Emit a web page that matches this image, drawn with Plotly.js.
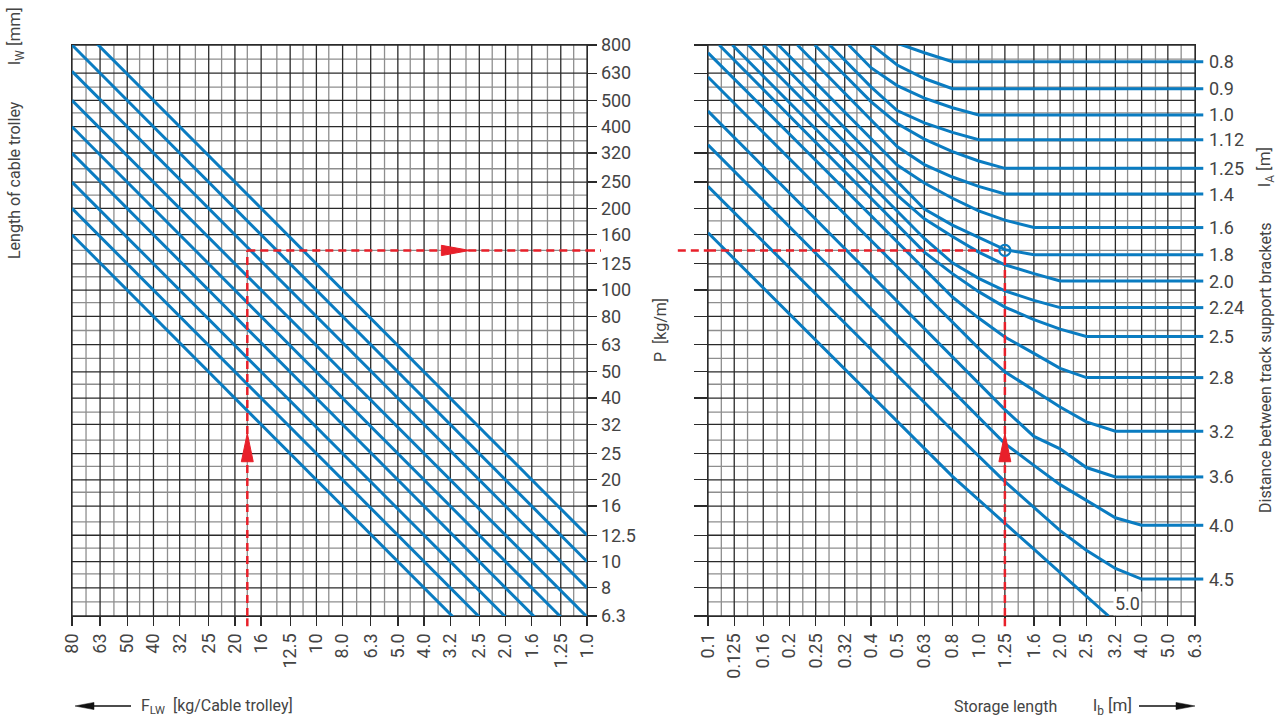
<!DOCTYPE html>
<html><head><meta charset="utf-8">
<script src="https://cdn.plot.ly/plotly-3.0.1.min.js"></script>
<style>html,body{margin:0;padding:0;background:#fff}#chart{width:1283px;height:719px}</style>
</head><body><div id="chart"></div>
<script>
// ---------------- data ----------------
// left nomogram: length of cable trolley lW [mm]
const lwValues = [80, 100, 125, 160, 200, 250, 320, 400, 500];
// F_LW axis (kg / cable trolley)
const fTickVals = [80, 63, 50, 40, 32, 25, 20, 16, 12.5, 10, 8, 6.3, 5, 4, 3.2, 2.5, 2, 1.6, 1.25, 1];
const fTickText = ["80","63","50","40","32","25","20","16","12.5","10","8.0","6.3","5.0","4.0","3.2","2.5","2.0","1.6","1.25","1.0"];
const fMinor = [71, 56, 45, 35.5, 28, 22.4, 18, 14, 11.2, 9, 7.1, 5.6, 4.5, 3.55, 2.8, 2.24, 1.8, 1.4, 1.12];
// P axis (kg/m)
const pTickVals = [800, 630, 500, 400, 320, 250, 200, 160, 125, 100, 80, 63, 50, 40, 32, 25, 20, 16, 12.5, 10, 8, 6.3];
const pTickText = ["800","630","500","400","320","250","200","160","125","100","80","63","50","40","32","25","20","16","12.5","10","8","6.3"];
const pMinor = [710, 560, 450, 355, 280, 224, 180, 140, 112, 90, 71, 56, 45, 35.5, 28, 22.4, 18, 14, 11.2, 9, 7.1];
// storage length lb [m]
const lbTickVals = [0.1, 0.125, 0.16, 0.2, 0.25, 0.32, 0.4, 0.5, 0.63, 0.8, 1, 1.25, 1.6, 2, 2.5, 3.2, 4, 5, 6.3];
const lbTickText = ["0.1","0.125","0.16","0.2","0.25","0.32","0.4","0.5","0.63","0.8","1.0","1.25","1.6","2.0","2.5","3.2","4.0","5.0","6.3"];
const lbMinor = [0.112, 0.14, 0.18, 0.224, 0.28, 0.355, 0.45, 0.56, 0.71, 0.9, 1.12, 1.4, 1.8, 2.24, 2.8, 3.55, 4.5, 5.6];
// distance between track support brackets lA [m]
const laLabels = ["0.8","0.9","1.0","1.12","1.25","1.4","1.6","1.8","2.0","2.24","2.5","2.8","3.2","3.6","4.0","4.5","5.0"];
const laFlatP  = [694, 552, 442, 358, 281, 226, 170, 135, 108, 86.2, 67.5, 47.6, 30.2, 20.5, 13.6, 8.62, null];
// curves of the right nomogram (lb [m], P [kg/m]), one per lA
const curveLb = [
  [0.5, 0.63, 0.8, 6.3],
  [0.38, 0.5, 0.63, 0.8, 6.3],
  [0.331, 0.4, 0.5, 0.63, 0.8, 1.0, 6.3],
  [0.282, 0.4, 0.5, 0.63, 0.8, 1.0, 6.3],
  [0.248, 0.4, 0.5, 0.63, 0.8, 1.0, 1.25, 6.3],
  [0.214, 0.5, 0.63, 0.8, 1.0, 1.25, 6.3],
  [0.182, 0.4, 0.5, 0.63, 0.8, 1.0, 1.25, 1.6, 6.3],
  [0.16, 0.63, 0.8, 1.0, 1.25, 1.6, 6.3],
  [0.141, 0.5, 0.63, 0.8, 1.0, 1.25, 1.6, 2.0, 6.3],
  [0.123, 0.63, 0.8, 1.0, 1.25, 1.6, 2.0, 6.3],
  [0.11, 0.63, 0.8, 1.0, 1.25, 1.6, 2.0, 2.5, 6.3],
  [0.1, 0.8, 1.0, 1.25, 1.6, 2.0, 2.5, 6.3],
  [0.1, 1.0, 1.25, 1.6, 2.0, 2.5, 3.2, 6.3],
  [0.1, 1.25, 1.6, 2.0, 2.5, 3.2, 6.3],
  [0.1, 1.25, 1.6, 2.0, 2.5, 3.2, 4.0, 6.3],
  [0.1, 0.8, 1.25, 2.0, 2.5, 3.2, 4.0, 6.3],
  [0.1, 0.8, 1.6, 3.02]
];
const curveP = [
  [812, 749, 694, 694],
  [838, 675, 602, 552, 552],
  [800, 660, 567, 510, 470, 442, 442],
  [800, 561, 459, 413, 381, 358, 358],
  [800, 495, 411, 360, 324, 299, 281, 281],
  [800, 338, 290, 261, 241, 226, 226],
  [800, 362, 289, 248, 218, 196, 181, 170, 170],
  [800, 199, 173.5, 156, 141, 135, 135],
  [800, 224, 183, 157.5, 138, 124, 115, 108, 108],
  [800, 155, 126, 110.5, 99.4, 91.7, 86.2, 86.2],
  [800, 138, 115, 98.7, 86.6, 77.9, 71.8, 67.5, 67.5],
  [749, 94.3, 78.9, 67.2, 58.5, 51.5, 47.6, 47.6],
  [610, 61.0, 50.0, 42.6, 37.1, 32.7, 30.2, 30.2],
  [457, 36.3, 28.9, 26.0, 22.2, 20.5, 20.5],
  [343, 27.2, 22.6, 19.2, 16.8, 14.5, 13.6, 13.6],
  [241, 30.4, 19.7, 13.0, 11.0, 9.43, 8.62, 8.62],
  [162.7, 20.6, 11.1, 6.3]
];
// label of the last curve (inside the plot)
const lastCurveLabelLb = 3.56, lastCurveLabelP = 7.03;
// worked example (red dashed path)
const exampleF = 18, exampleP = 140, exampleLb = 1.25;

// ---------------- style ----------------
const BLUE = '#0a7cc1', RED = '#e8202a', DARK = '#2a2a2a', MINOR = '#8e8e8e', TXT = '#444444';
const FONT = '"Liberation Sans Narrow", "Arial Narrow", Roboto, sans-serif';
const W = 1283, H = 719;
const px = x => x / W, py = y => 1 - y / H;
const L = Math.log10;
const dom1 = [72 / W, 587 / W], dom2 = [708 / W, 1195 / W], domY = [103 / H, 674 / H];
const first = a => a[0], last = a => a[a.length - 1];
const rangeP = [L(last(pTickVals)), L(first(pTickVals))];

const traces = [];
// grid lines (drawn as traces so that major and minor lines get their own colours)
function gridTrace(vals, lo, hi, vertical, xa, ya, color) {
  const xs = [], ys = [];
  vals.forEach(v => {
    if (vertical) { xs.push(v, v, null); ys.push(lo, hi, null); }
    else { xs.push(lo, hi, null); ys.push(v, v, null); }
  });
  return {x: xs, y: ys, xaxis: xa, yaxis: ya, mode: 'lines', line: {color: color, width: 1.3},
    hoverinfo: 'skip', connectgaps: false};
}
const pLo = last(pTickVals), pHi = first(pTickVals);
traces.push(gridTrace(fMinor, pLo, pHi, true, 'x', 'y', MINOR));
traces.push(gridTrace(pMinor, first(fTickVals), last(fTickVals), false, 'x', 'y', MINOR));
traces.push(gridTrace(fTickVals, pLo, pHi, true, 'x', 'y', DARK));
traces.push(gridTrace(pTickVals, first(fTickVals), last(fTickVals), false, 'x', 'y', DARK));
traces.push(gridTrace(lbMinor, pLo, pHi, true, 'x2', 'y2', MINOR));
traces.push(gridTrace(pMinor, first(lbTickVals), last(lbTickVals), false, 'x2', 'y2', MINOR));
traces.push(gridTrace(lbTickVals, pLo, pHi, true, 'x2', 'y2', DARK));
traces.push(gridTrace(pTickVals, first(lbTickVals), last(lbTickVals), false, 'x2', 'y2', DARK));

// left: lines P = F / lW
lwValues.forEach(lw => {
  const fx = [first(fTickVals), last(fTickVals)];
  traces.push({x: fx, y: fx.map(f => f * 1000 / lw), xaxis: 'x', yaxis: 'y', mode: 'lines',
    line: {color: BLUE, width: 3}, hoverinfo: 'skip'});
});
// right: curves
curveLb.forEach((xs, i) => {
  traces.push({x: xs, y: curveP[i], xaxis: 'x2', yaxis: 'y2', mode: 'lines',
    line: {color: BLUE, width: 3}, hoverinfo: 'skip', name: laLabels[i]});
});
// red example path
const redLine = {color: RED, width: 2.5, dash: '8px,5px'};
traces.push({x: [exampleF, exampleF], y: [pLo, exampleP], xaxis: 'x', yaxis: 'y', mode: 'lines', line: redLine, hoverinfo: 'skip'});
traces.push({x: [exampleF, last(fTickVals)], y: [exampleP, exampleP], xaxis: 'x', yaxis: 'y', mode: 'lines', line: redLine, hoverinfo: 'skip'});
const cgap = Math.pow(10, 0.022);
traces.push({x: [first(lbTickVals), exampleLb / cgap], y: [exampleP, exampleP], xaxis: 'x2', yaxis: 'y2', mode: 'lines', line: redLine, hoverinfo: 'skip'});
traces.push({x: [exampleLb, exampleLb], y: [pLo, exampleP / cgap], xaxis: 'x2', yaxis: 'y2', mode: 'lines', line: redLine, hoverinfo: 'skip'});
traces.push({x: [exampleLb], y: [exampleP], xaxis: 'x2', yaxis: 'y2', mode: 'markers',
  marker: {symbol: 'circle-open', size: 11, color: BLUE, line: {width: 2.2, color: BLUE}}, hoverinfo: 'skip'});
// red arrow heads (triangles)
const AL = Math.pow(10, 0.105), AW = Math.pow(10, 0.022);
function triUp(x, tip, xa, ya) {
  const b = tip / AL;
  return {x: [x * AW, x, x / AW, x * AW], y: [b, tip, b, b], xaxis: xa, yaxis: ya, mode: 'lines',
    fill: 'toself', fillcolor: RED, line: {color: RED, width: 1}, hoverinfo: 'skip'};
}
const midP = Math.sqrt(pLo * exampleP);
traces.push(triUp(exampleF, midP, 'x', 'y'));
traces.push(triUp(exampleLb, midP, 'x2', 'y2'));
const tipF = Math.pow(10, L(exampleF) * (1 - 0.655));
const AH = Math.pow(10, 0.019);
traces.push({x: [tipF * AL, tipF, tipF * AL, tipF * AL], y: [exampleP * AH, exampleP, exampleP / AH, exampleP * AH],
  xaxis: 'x', yaxis: 'y', mode: 'lines', fill: 'toself', fillcolor: RED, line: {color: RED, width: 1}, hoverinfo: 'skip'});

// ---------------- axes ----------------
const tickFont = {family: FONT, size: 18, color: TXT};
function frameAxis(extra) {
  return Object.assign({
    type: 'log', showgrid: false, zeroline: false,
    showline: true, mirror: true, linecolor: DARK, linewidth: 1.3,
    ticks: 'outside', ticklen: 9, tickwidth: 1.3, tickcolor: DARK, tickfont: tickFont,
    tickmode: 'array', fixedrange: true
  }, extra);
}
const layout = {
  width: W, height: H, margin: {l: 0, r: 0, t: 0, b: 0},
  paper_bgcolor: '#fff', plot_bgcolor: '#fff', showlegend: false,
  font: {family: FONT, color: TXT},
  xaxis: frameAxis({domain: dom1, anchor: 'y', range: [L(first(fTickVals)), L(last(fTickVals))],
    tickvals: fTickVals, ticktext: fTickText, tickangle: -90}),
  yaxis: frameAxis({domain: domY, anchor: 'x', side: 'right', range: rangeP,
    tickvals: pTickVals, ticktext: pTickText}),
  xaxis2: frameAxis({domain: dom2, anchor: 'y2', range: [L(first(lbTickVals)), L(last(lbTickVals))],
    tickvals: lbTickVals, ticktext: lbTickText, tickangle: -90}),
  yaxis2: frameAxis({domain: domY, anchor: 'x2', side: 'left', range: rangeP, ticklen: 13,
    tickvals: pTickVals, showticklabels: false}),
  shapes: [],
  annotations: []
};

// red dashed extensions outside the plot areas
const redShape = {type: 'line', line: {color: RED, width: 2.5, dash: '8px,5px'}};
layout.shapes.push(Object.assign({xref: 'x', yref: 'y domain', x0: exampleF, x1: exampleF, y0: -0.018, y1: 0}, redShape));
layout.shapes.push(Object.assign({xref: 'x domain', yref: 'y', x0: 1, x1: 1.027, y0: exampleP, y1: exampleP}, redShape));
layout.shapes.push(Object.assign({xref: 'x2 domain', yref: 'y2', x0: -0.062, x1: 0, y0: exampleP, y1: exampleP}, redShape));
layout.shapes.push(Object.assign({xref: 'x2', yref: 'y2 domain', x0: exampleLb, x1: exampleLb, y0: -0.018, y1: 0}, redShape));

// lA: blue stubs beyond the right edge and their labels
laFlatP.forEach((p, i) => {
  if (p === null) return;
  layout.shapes.push({type: 'line', xref: 'x2 domain', yref: 'y2', x0: 1, x1: 1.017, y0: p, y1: p,
    line: {color: BLUE, width: 3}});
  layout.annotations.push({xref: 'x2 domain', yref: 'y2', x: 1, xshift: 12, xanchor: 'left', yanchor: 'middle',
    y: L(p), text: laLabels[i], showarrow: false, font: tickFont});
});

// black direction arrows at the bottom
function blackArrow(tail, tip, y) {
  const dir = Math.sign(tip - tail);
  const base = tip - dir * 19;
  layout.shapes.push({type: 'line', xref: 'paper', yref: 'paper', x0: px(tail), x1: px(base), y0: py(y), y1: py(y),
    line: {color: '#111', width: 1.5}});
  layout.shapes.push({type: 'path', xref: 'paper', yref: 'paper', fillcolor: '#111', line: {color: '#111', width: 0.5},
    path: `M${px(tip)},${py(y)} L${px(base)},${py(y - 3.6)} L${px(base)},${py(y + 3.6)} Z`});
}
blackArrow(131, 75, 706);
blackArrow(1139, 1195, 706);

// lW labels on the diagonals of the left chart
lwValues.forEach(lw => {
  const fl = Math.min(94, lw);
  layout.annotations.push({xref: 'x', yref: 'y', x: L(fl), y: L(fl * 1000 / lw), text: String(lw),
    showarrow: false, textangle: 45, font: {family: FONT, size: 18, color: TXT}});
});
// label inside the right chart
layout.annotations.push({xref: 'x2', yref: 'y2', x: L(lastCurveLabelLb), y: L(lastCurveLabelP), text: last(laLabels),
  showarrow: false, bgcolor: '#fff', borderpad: 1, font: tickFont});
// axis titles
function note(text, x, y, angle, anchor, size) {
  layout.annotations.push({xref: 'paper', yref: 'paper', x: px(x), y: py(y), text: text, showarrow: false,
    textangle: angle || 0, xanchor: anchor || 'center', yanchor: 'middle',
    font: {family: FONT, size: size || 16, color: TXT}});
}
note('l<sub>W</sub> [mm]', 15, 36, -90, 'center', 17);
note('Length of cable trolley', 15, 180, -90);
note('P  [kg/m]', 661, 330, -90);
note('l<sub>A</sub> [m]', 1265, 167, -90, 'center', 17);
note('Distance between track support brackets', 1265, 368, -90);
note('F<sub>LW</sub>  [kg/Cable trolley]', 139, 706, 0, 'left');
note('Storage length', 1005, 706, 0);
note('l<sub>b</sub> [m]', 1112, 706, 0, 'center', 17);

Plotly.newPlot('chart', traces, layout, {staticPlot: true, displayModeBar: false});
</script>
</body></html>
